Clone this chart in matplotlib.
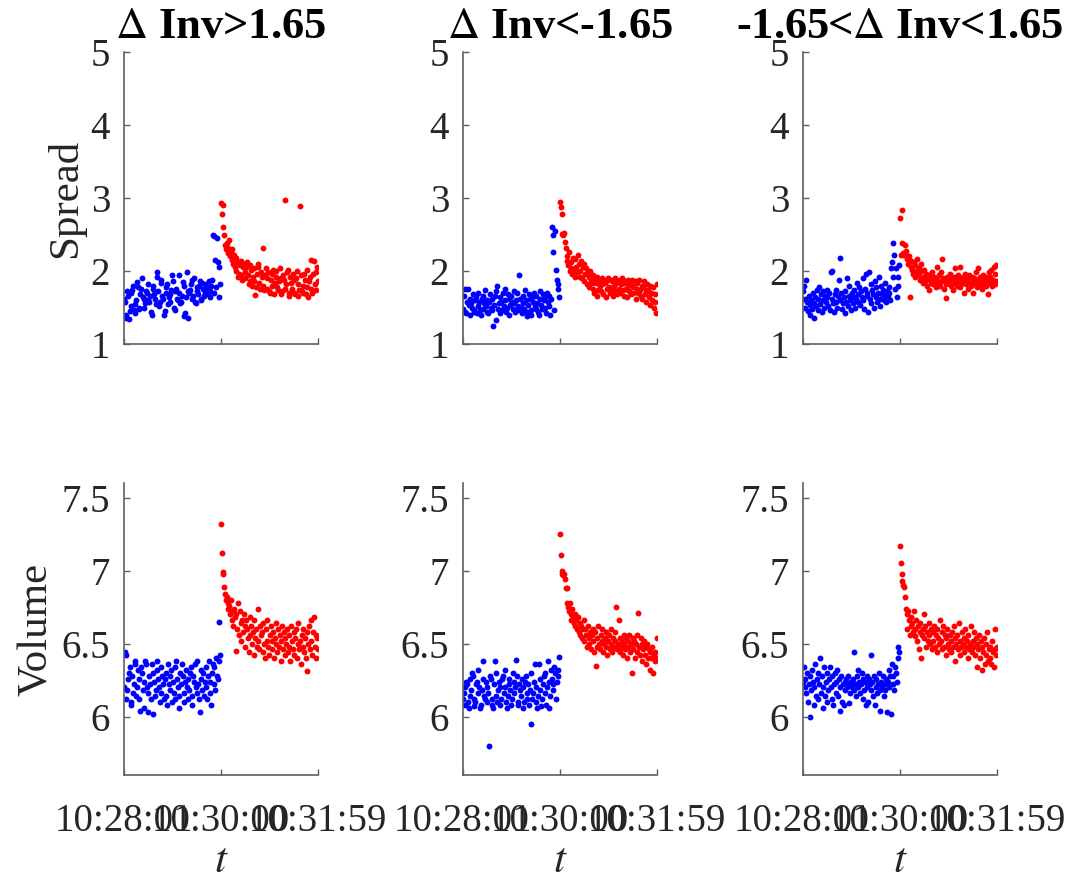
import numpy as np
import pandas as pd
import matplotlib
matplotlib.use('Agg')
import matplotlib.pyplot as plt
import matplotlib.dates as mdates
from matplotlib.ticker import FuncFormatter

plt.rcParams['font.family'] = ['Liberation Serif', 'DejaVu Serif']
plt.rcParams['mathtext.fontset'] = 'stix'

# one sample per second, 10:28:01 .. 10:31:59
times = pd.date_range('2020-01-01 10:28:01', '2020-01-01 10:31:59', freq='s')
split_time = pd.Timestamp('2020-01-01 10:30:00')
tick_times = ['2020-01-01 10:28:01', '2020-01-01 10:30:00', '2020-01-01 10:31:59']

titles = [r'$\Delta$ Inv>1.65', r'$\Delta$ Inv<-1.65', r'-1.65<$\Delta$ Inv<1.65']

# ---- Spread, Delta Inv > 1.65
spread_up_before = [
    1.62, 1.58, 1.35, 1.40, 1.72, 1.66, 1.34, 1.45, 1.52, 1.70,
    1.74, 1.80, 1.46, 1.42, 1.55, 1.60, 1.85, 1.78, 1.50, 1.48,
    1.68, 1.75, 1.90, 1.64, 1.62, 1.50, 1.56, 1.72, 1.70, 1.82,
    1.60, 1.58, 1.66, 1.44, 1.40, 1.76, 1.80, 1.68, 1.62, 1.55,
    1.98, 1.92, 1.73, 1.52, 1.58, 1.88, 1.84, 1.66, 1.62, 1.40,
    1.45, 1.70, 1.78, 1.82, 1.55, 1.64, 1.68, 1.58, 1.74, 1.94,
    1.86, 1.50, 1.47, 1.72, 1.76, 1.62, 1.60, 1.95, 1.70, 1.56,
    1.58, 1.66, 1.85, 1.80, 1.38, 1.42, 1.64, 1.98, 1.72, 1.36,
    1.70, 1.74, 1.82, 1.88, 1.62, 1.66, 1.90, 1.58, 1.56, 1.78,
    1.72, 1.68, 1.80, 1.86, 1.62, 1.60, 1.84, 1.76, 1.66, 1.70,
    1.78, 1.82, 1.74, 1.68, 1.86, 1.72, 1.64, 1.80, 1.88, 2.50,
    1.70, 2.48, 2.15, 1.78, 2.45, 2.12, 2.05, 1.65, 1.82]
spread_up_after = [
    2.93, 2.78, 2.90, 2.60, 2.50, 2.35, 2.30, 2.38, 2.25, 2.32,
    2.42, 2.20, 2.28, 2.15, 2.30, 2.10, 2.22, 2.05, 2.18, 2.00,
    2.12, 1.92, 1.96, 2.08, 2.14, 1.94, 1.88, 2.05, 2.10, 1.98,
    1.90, 2.06, 2.12, 1.95, 1.82, 1.86, 2.08, 2.02, 1.80, 1.92,
    2.04, 1.86, 1.67, 1.78, 1.96, 2.10, 2.06, 1.84, 1.76, 1.98,
    1.92, 2.32, 1.80, 1.74, 1.94, 2.04, 1.76, 1.90, 1.98, 1.72,
    1.70, 1.88, 1.96, 1.80, 2.02, 1.68, 1.84, 2.00, 1.92, 1.78,
    1.74, 1.86, 2.04, 1.90, 1.68, 1.72, 1.94, 1.88, 2.97, 1.76,
    1.82, 1.98, 2.02, 1.70, 1.66, 1.92, 1.84, 1.76, 1.96, 1.88,
    1.70, 1.68, 1.90, 2.00, 1.82, 1.66, 1.74, 2.89, 1.94, 1.72,
    1.80, 1.70, 1.96, 1.88, 1.68, 1.78, 2.02, 1.64, 1.86, 1.92,
    2.15, 1.76, 1.70, 1.96, 2.14, 1.82, 1.98, 1.74, 2.06, 1.86]

# ---- Volume, Delta Inv > 1.65
volume_up_before = [
    6.20, 6.44, 6.42, 6.12, 6.18, 6.26, 6.30, 6.34, 6.08, 6.10,
    6.28, 6.16, 6.22, 6.36, 6.38, 6.14, 6.20, 6.32, 6.26, 6.12,
    6.04, 6.34, 6.30, 6.18, 6.06, 6.24, 6.38, 6.36, 6.20, 6.16,
    6.03, 6.28, 6.22, 6.12, 6.36, 6.02, 6.30, 6.24, 6.14, 6.18,
    6.32, 6.38, 6.26, 6.20, 6.10, 6.16, 6.34, 6.28, 6.22, 6.12,
    6.26, 6.30, 6.14, 6.08, 6.36, 6.22, 6.18, 6.28, 6.32, 6.10,
    6.24, 6.16, 6.12, 6.34, 6.38, 6.26, 6.20, 6.06, 6.14, 6.30,
    6.22, 6.36, 6.28, 6.16, 6.10, 6.24, 6.32, 6.20, 6.12, 6.26,
    6.18, 6.30, 6.34, 6.14, 6.08, 6.28, 6.24, 6.36, 6.20, 6.16,
    6.38, 6.22, 6.12, 6.03, 6.26, 6.32, 6.18, 6.30, 6.14, 6.24,
    6.34, 6.20, 6.12, 6.28, 6.38, 6.16, 6.24, 6.08, 6.30, 6.36,
    6.22, 6.34, 6.18, 6.40, 6.28, 6.26, 6.38, 6.65, 6.42]
volume_up_after = [
    7.32, 7.12, 6.98, 6.99, 6.89, 6.84, 6.80, 6.82, 6.78, 6.74,
    6.76, 6.70, 6.80, 6.66, 6.72, 6.62, 6.74, 6.68, 6.45, 6.70,
    6.60, 6.78, 6.56, 6.72, 6.64, 6.52, 6.66, 6.58, 6.70, 6.62,
    6.48, 6.66, 6.60, 6.54, 6.44, 6.68, 6.56, 6.62, 6.50, 6.58,
    6.66, 6.42, 6.54, 6.60, 6.48, 6.74, 6.52, 6.46, 6.62, 6.56,
    6.58, 6.44, 6.64, 6.50, 6.40, 6.60, 6.52, 6.66, 6.48, 6.42,
    6.56, 6.62, 6.46, 6.52, 6.58, 6.40, 6.54, 6.64, 6.50, 6.44,
    6.60, 6.48, 6.56, 6.38, 6.52, 6.62, 6.46, 6.58, 6.42, 6.54,
    6.50, 6.60, 6.44, 6.56, 6.48, 6.38, 6.62, 6.52, 6.46, 6.58,
    6.42, 6.54, 6.60, 6.40, 6.50, 6.64, 6.46, 6.52, 6.36, 6.56,
    6.48, 6.60, 6.44, 6.54, 6.40, 6.58, 6.31, 6.50, 6.62, 6.46,
    6.66, 6.52, 6.42, 6.58, 6.68, 6.48, 6.56, 6.40, 6.54, 6.46]

# ---- Spread, Delta Inv < -1.65
spread_down_before = [
    1.48, 1.66, 1.75, 1.44, 1.42, 1.58, 1.76, 1.54, 1.40, 1.62,
    1.56, 1.50, 1.68, 1.46, 1.44, 1.60, 1.64, 1.42, 1.52, 1.70,
    1.58, 1.46, 1.40, 1.62, 1.66, 1.48, 1.56, 1.74, 1.52, 1.44,
    1.60, 1.42, 1.58, 1.68, 1.50, 1.46, 1.62, 1.25, 1.54, 1.66,
    1.33, 1.72, 1.80, 1.48, 1.56, 1.42, 1.64, 1.58, 1.46, 1.70,
    1.52, 1.76, 1.60, 1.44, 1.50, 1.68, 1.62, 1.40, 1.54, 1.66,
    1.58, 1.48, 1.72, 1.56, 1.44, 1.60, 1.70, 1.52, 1.46, 1.94,
    1.62, 1.50, 1.42, 1.66, 1.56, 1.48, 1.74, 1.60, 1.44, 1.38,
    1.54, 1.68, 1.62, 1.46, 1.40, 1.64, 1.58, 1.70, 1.52, 1.48,
    1.66, 1.56, 1.44, 1.40, 1.62, 1.72, 1.54, 1.48, 1.68, 1.60,
    1.50, 1.64, 1.42, 1.70, 1.58, 1.52, 1.66, 1.40, 1.62, 2.60,
    2.50, 2.26, 1.46, 2.55, 2.02, 1.88, 1.82, 1.75, 1.64]
spread_down_after = [
    2.95, 2.88, 2.78, 2.51, 2.49, 2.52, 2.40, 2.31, 2.20, 2.14,
    2.08, 2.26, 2.00, 2.12, 2.04, 1.96, 2.18, 2.02, 1.92, 2.16,
    2.06, 1.98, 2.22, 2.10, 1.92, 2.00, 2.14, 1.90, 2.06, 1.86,
    2.10, 1.96, 2.04, 1.82, 1.98, 1.92, 1.78, 2.00, 1.88, 1.84,
    1.76, 1.94, 1.70, 1.88, 1.84, 1.66, 1.92, 1.74, 1.86, 1.80,
    1.72, 1.90, 1.82, 1.68, 1.88, 1.84, 1.64, 1.86, 1.76, 1.90,
    1.78, 1.70, 1.88, 1.74, 1.86, 1.66, 1.80, 1.90, 1.72, 1.84,
    1.68, 1.86, 1.76, 1.88, 1.70, 1.82, 1.90, 1.74, 1.84, 1.66,
    1.86, 1.76, 1.64, 1.88, 1.80, 1.72, 1.84, 1.68, 1.88, 1.78,
    1.70, 1.82, 1.86, 1.62, 1.76, 1.84, 1.70, 1.88, 1.74, 1.66,
    1.80, 1.62, 1.78, 1.86, 1.68, 1.74, 1.58, 1.82, 1.72, 1.64,
    1.80, 1.54, 1.70, 1.60, 1.78, 1.50, 1.68, 1.58, 1.42, 1.82]

# ---- Volume, Delta Inv < -1.65
volume_down_before = [
    6.12, 6.16, 6.08, 6.20, 6.24, 6.22, 6.10, 6.06, 6.14, 6.26,
    6.18, 6.30, 6.28, 6.12, 6.07, 6.10, 6.22, 6.24, 6.16, 6.32,
    6.20, 6.06, 6.08, 6.18, 6.26, 6.38, 6.14, 6.12, 6.24, 6.20,
    6.10, 6.16, 5.80, 6.28, 6.26, 6.12, 6.08, 6.06, 6.22, 6.38,
    6.30, 6.14, 6.10, 6.18, 6.24, 6.20, 6.08, 6.12, 6.26, 6.28,
    6.16, 6.32, 6.20, 6.10, 6.06, 6.14, 6.22, 6.26, 6.18, 6.08,
    6.12, 6.30, 6.24, 6.16, 6.20, 6.39, 6.28, 6.10, 6.08, 6.22,
    6.18, 6.14, 6.26, 6.20, 6.06, 6.10, 6.24, 6.28, 6.12, 6.16,
    6.22, 6.08, 6.18, 6.30, 5.95, 6.12, 6.16, 6.24, 6.36, 6.20,
    6.10, 6.06, 6.14, 6.36, 6.26, 6.18, 6.07, 6.12, 6.22, 6.28,
    6.16, 6.30, 6.08, 6.20, 6.38, 6.24, 6.06, 6.14, 6.32, 6.26,
    6.18, 6.22, 6.34, 6.30, 6.12, 6.24, 6.32, 6.28, 6.41]
volume_down_after = [
    7.25, 7.11, 7.00, 6.98, 6.97, 6.98, 6.94, 6.88, 6.88, 6.78,
    6.75, 6.72, 6.78, 6.70, 6.66, 6.74, 6.68, 6.64, 6.70, 6.62,
    6.66, 6.60, 6.68, 6.58, 6.64, 6.56, 6.62, 6.54, 6.60, 6.66,
    6.52, 6.60, 6.56, 6.48, 6.62, 6.54, 6.50, 6.58, 6.46, 6.56,
    6.60, 6.52, 6.44, 6.58, 6.35, 6.54, 6.48, 6.62, 6.50, 6.46,
    6.56, 6.52, 6.60, 6.44, 6.50, 6.54, 6.48, 6.58, 6.42, 6.52,
    6.56, 6.46, 6.50, 6.60, 6.44, 6.54, 6.48, 6.52, 6.58, 6.75,
    6.46, 6.50, 6.66, 6.44, 6.54, 6.48, 6.52, 6.42, 6.56, 6.50,
    6.46, 6.54, 6.40, 6.52, 6.48, 6.56, 6.44, 6.50, 6.30, 6.54,
    6.46, 6.52, 6.40, 6.50, 6.56, 6.44, 6.71, 6.48, 6.42, 6.54,
    6.50, 6.38, 6.46, 6.52, 6.42, 6.48, 6.36, 6.50, 6.40, 6.46,
    6.44, 6.32, 6.40, 6.48, 6.30, 6.42, 6.38, 6.44, 6.40, 6.54]

# ---- Spread, -1.65 < Delta Inv < 1.65
spread_mid_before = [
    1.72, 1.80, 1.62, 1.50, 1.88, 1.58, 1.45, 1.66, 1.54, 1.40,
    1.60, 1.48, 1.70, 1.56, 1.36, 1.64, 1.52, 1.74, 1.46, 1.62,
    1.78, 1.55, 1.68, 1.44, 1.72, 1.60, 1.50, 1.66, 1.58, 1.74,
    1.64, 1.52, 1.70, 1.46, 1.98, 1.62, 2.00, 1.56, 1.44, 1.68,
    1.58, 1.74, 1.50, 1.66, 1.88, 2.18, 1.60, 1.70, 1.48, 1.56,
    1.64, 1.42, 1.72, 1.58, 1.90, 1.52, 1.66, 1.80, 1.60, 1.46,
    1.70, 1.56, 1.64, 1.74, 1.50, 1.62, 1.84, 1.58, 1.68, 1.78,
    1.54, 1.72, 1.64, 1.90, 1.60, 1.48, 1.76, 1.96, 1.66, 1.70,
    1.44, 1.98, 1.62, 1.82, 1.56, 1.74, 1.68, 1.50, 1.86, 1.64,
    1.78, 1.58, 1.70, 1.92, 1.62, 1.52, 1.80, 1.68, 1.74, 1.60,
    1.66, 1.84, 1.58, 1.72, 1.64, 1.78, 1.70, 1.60, 2.04, 2.13,
    2.38, 1.92, 2.22, 1.76, 2.04, 1.65, 1.79, 1.92, 2.08]
spread_mid_after = [
    2.72, 2.22, 2.83, 2.38, 2.24, 2.22, 2.36, 2.28, 2.20, 2.16,
    2.10, 2.20, 1.65, 2.06, 2.14, 2.02, 1.96, 2.12, 1.92, 2.08,
    2.00, 2.16, 1.94, 2.04, 1.88, 1.98, 2.10, 1.90, 1.84, 2.02,
    1.92, 1.86, 1.96, 1.80, 1.90, 1.74, 1.94, 1.88, 1.84, 1.98,
    1.90, 1.82, 1.92, 1.86, 1.78, 2.06, 1.88, 1.84, 1.94, 1.80,
    1.98, 1.86, 2.16, 1.90, 1.76, 1.88, 1.82, 1.63, 1.92, 1.84,
    1.88, 1.96, 1.80, 1.90, 1.86, 1.74, 1.92, 2.04, 1.84, 1.88,
    1.80, 1.94, 1.86, 2.06, 1.78, 1.90, 1.84, 1.92, 1.70, 1.88,
    1.96, 1.82, 1.86, 1.90, 1.76, 1.94, 1.84, 1.80, 1.92, 1.70,
    1.86, 1.90, 1.82, 1.98, 1.78, 1.88, 2.04, 1.84, 1.92, 1.80,
    1.76, 1.88, 1.94, 1.82, 1.86, 1.92, 1.80, 1.88, 1.68, 1.98,
    1.84, 1.92, 2.02, 1.80, 1.88, 2.06, 1.82, 1.96, 2.08, 1.86]

# ---- Volume, -1.65 < Delta Inv < 1.65
volume_mid_before = [
    6.24, 6.34, 6.20, 6.26, 6.16, 6.30, 6.10, 6.22, 6.28, 6.00,
    6.18, 6.32, 6.24, 6.08, 6.20, 6.36, 6.14, 6.26, 6.12, 6.30,
    6.22, 6.40, 6.16, 6.28, 6.06, 6.20, 6.34, 6.14, 6.24, 6.10,
    6.30, 6.18, 6.26, 6.34, 6.20, 6.12, 6.28, 6.08, 6.22, 6.30,
    6.16, 6.24, 6.32, 6.14, 6.26, 6.20, 6.04, 6.28, 6.10, 6.22,
    6.08, 6.24, 6.18, 6.26, 6.20, 6.28, 6.09, 6.22, 6.16, 6.24,
    6.20, 6.26, 6.18, 6.44, 6.22, 6.14, 6.28, 6.20, 6.32, 6.24,
    6.16, 6.22, 6.30, 6.12, 6.26, 6.18, 6.24, 6.08, 6.20, 6.28,
    6.10, 6.26, 6.22, 6.42, 6.18, 6.24, 6.14, 6.28, 6.08, 6.20,
    6.26, 6.16, 6.22, 6.30, 6.18, 6.04, 6.24, 6.20, 6.28, 6.14,
    6.22, 6.18, 6.26, 6.03, 6.24, 6.32, 6.20, 6.28, 6.02, 6.36,
    6.22, 6.28, 6.18, 6.34, 6.30, 6.24, 6.40, 6.48, 6.44]
volume_mid_after = [
    7.17, 7.05, 6.98, 6.93, 6.90, 6.89, 6.82, 6.74, 6.60, 6.70,
    6.72, 6.66, 6.56, 6.62, 6.68, 6.64, 6.58, 6.72, 6.60, 6.55,
    6.66, 6.52, 6.62, 6.46, 6.58, 6.64, 6.40, 6.56, 6.60, 6.70,
    6.54, 6.62, 6.48, 6.58, 6.52, 6.64, 6.56, 6.50, 6.60, 6.46,
    6.58, 6.52, 6.62, 6.48, 6.56, 6.44, 6.60, 6.54, 6.50, 6.66,
    6.52, 6.46, 6.58, 6.62, 6.48, 6.56, 6.42, 6.54, 6.60, 6.50,
    6.46, 6.56, 6.52, 6.44, 6.58, 6.48, 6.62, 6.38, 6.54, 6.50,
    6.56, 6.46, 6.64, 6.52, 6.42, 6.48, 6.58, 6.50, 6.44, 6.54,
    6.60, 6.48, 6.52, 6.40, 6.56, 6.46, 6.50, 6.62, 6.44, 6.52,
    6.48, 6.58, 6.42, 6.54, 6.34, 6.50, 6.46, 6.56, 6.40, 6.52,
    6.32, 6.48, 6.44, 6.54, 6.36, 6.50, 6.42, 6.58, 6.38, 6.46,
    6.48, 6.40, 6.36, 6.52, 6.44, 6.34, 6.46, 6.60, 6.42, 6.48]

spread_sets = [(spread_up_before, spread_up_after),
               (spread_down_before, spread_down_after),
               (spread_mid_before, spread_mid_after)]
volume_sets = [(volume_up_before, volume_up_after),
               (volume_down_before, volume_down_after),
               (volume_mid_before, volume_mid_after)]

t_before = times[times < split_time]
t_after = times[times >= split_time]

fig = plt.figure(figsize=(10.73, 8.86), dpi=100)
W, H = 1073, 886
lefts = [124, 463, 803]
ax_w, ax_h = 194, 292
tops = [52, 483]

axis_col = '#5f5f5f'
text_col = '#262626'
fmt = FuncFormatter(lambda v, p: '%g' % v)

for row in range(2):
    for col in range(3):
        ax = fig.add_axes([lefts[col] / W, 1 - (tops[row] + ax_h) / H, ax_w / W, ax_h / H])
        if row == 0:
            before, after = spread_sets[col]
        else:
            before, after = volume_sets[col]
        ax.scatter(t_before, before, s=18, color='#0000ff', linewidths=0)
        ax.scatter(t_after, after, s=18, color='#ff0000', linewidths=0)

        ax.set_xlim(times[0], times[-1])
        ax.set_xticks(pd.to_datetime(tick_times))
        ax.xaxis.set_major_formatter(mdates.DateFormatter('%H:%M:%S'))
        if row == 0:
            ax.set_ylim(1, 5)
            ax.set_yticks([1, 2, 3, 4, 5])
            ax.set_title(titles[col], fontsize=32, fontweight='bold', pad=10, color='black')
            ax.tick_params(axis='x', labelbottom=False)
            if col == 0:
                ax.set_ylabel('Spread', fontsize=31, color=text_col)
        else:
            ax.set_ylim(5.6, 7.6)
            ax.set_yticks([6, 6.5, 7, 7.5])
            ax.set_xlabel('$t$', fontsize=31, color=text_col, labelpad=2)
            if col == 0:
                ax.set_ylabel('Volume', fontsize=31, color=text_col)
        ax.yaxis.set_major_formatter(fmt)

        for side in ['top', 'right']:
            ax.spines[side].set_visible(False)
        for side in ['left', 'bottom']:
            ax.spines[side].set_color(axis_col)
            ax.spines[side].set_linewidth(1.2)
        ax.tick_params(direction='in', length=4, width=1, color=axis_col,
                       labelsize=28, labelcolor=text_col)
        ax.tick_params(axis='y', pad=10)
        ax.tick_params(axis='x', pad=20)

fig.savefig('out.png', dpi=100)
